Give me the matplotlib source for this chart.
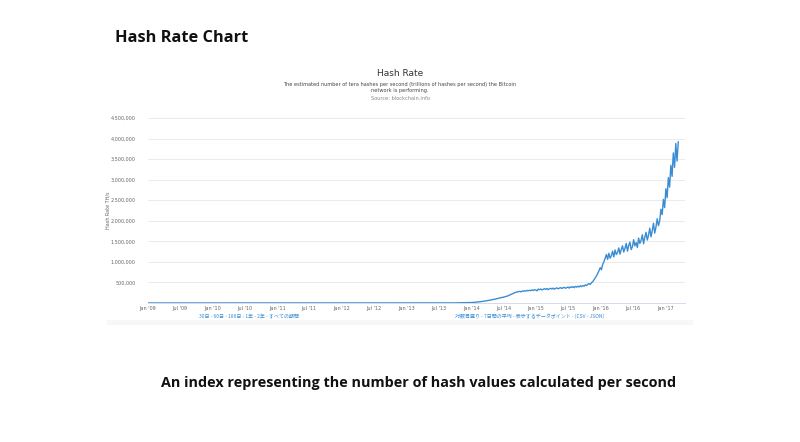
import numpy as np
import pandas as pd
import matplotlib
matplotlib.use("Agg")
import matplotlib.pyplot as plt
import matplotlib.dates as mdates
from matplotlib.patches import Rectangle
from matplotlib.ticker import FuncFormatter, MultipleLocator

# Hash rate in TH/s (early years are practically zero)
early_dates = ["2009-01-03", "2009-07-01", "2010-01-01", "2010-07-01", "2011-01-01",
               "2011-07-01", "2012-01-01", "2012-07-01", "2013-01-01", "2013-03-01",
               "2013-05-01", "2013-07-01", "2013-09-01", "2013-10-01", "2013-11-01",
               "2013-12-01"]
early_vals = [0, 0, 0.01, 0.1, 0.3, 10, 9, 20, 25, 45, 90, 220, 1000, 2500, 4500, 9000]

# weekly values from Jan 2014, in thousands TH/s
weekly_k = [
    # 2014
    11, 13, 15, 18, 21, 24, 27, 31, 35, 40, 44, 48, 52, 57, 63, 70, 74,
    80, 88, 95, 100, 108, 115, 122, 130, 135, 142, 150, 158, 168, 180, 195, 210, 222,
    235, 250, 262, 268, 275, 284, 270, 292, 283, 300, 289, 306, 296, 312, 300, 318, 305, 322,
    # 2015
    318, 296, 338, 322, 341, 318, 332, 349, 331, 352, 326, 344, 358, 340, 362, 336, 355,
    368, 345, 360, 375, 352, 370, 381, 358, 374, 388, 362, 392, 378, 398, 375, 403, 386,
    408, 390, 418, 398, 424, 408, 440, 425, 455, 472, 452, 495, 520, 565, 610, 660, 720,
    # 2016
    780, 860, 810, 940, 1000, 1090, 1180, 1060, 1210, 1090, 1150, 1260, 1120, 1290, 1180,
    1230, 1340, 1190, 1300, 1390, 1240, 1330, 1450, 1260, 1400, 1480, 1300, 1370, 1540,
    1390, 1470, 1350, 1580, 1450, 1520, 1660, 1440, 1600, 1720, 1530, 1650, 1820, 1610,
    1760, 1940, 1700, 1850, 2050, 1880, 2000, 2280,
    # 2017
    2150, 2520, 2320, 2780, 2560, 3050, 2820, 3350, 3080, 3650, 3300, 3880, 3450, 3920,
]

dates = pd.to_datetime(early_dates).append(
    pd.date_range("2014-01-01", periods=len(weekly_k), freq="7D"))
values = np.array(early_vals + [v * 1000 for v in weekly_k], dtype=float)

W, H = 800, 442
fig = plt.figure(figsize=(W / 100, H / 100), dpi=100)
fig.patch.set_facecolor("white")


def fx(x):
    return x / W


def fy(y):
    return 1 - y / H


# slide texts
fig.text(fx(115), fy(38), "Hash Rate Chart", fontsize=11.8, fontweight="bold",
         family="Open Sans", va="center", ha="left", color="#111111")
fig.text(fx(419), fy(383), "An index representing the number of hash values calculated per second",
         fontsize=10.4, fontweight="bold", family="Open Sans", va="center", ha="center",
         color="#111111")

# faint shadow under the embedded chart
fig.patches.append(Rectangle((fx(107), fy(325)), fx(693) - fx(107), fy(320) - fy(325),
                             transform=fig.transFigure, facecolor="#f7f7f7",
                             edgecolor="none", zorder=0))

# embedded chart titles
fig.text(fx(400), fy(73), "Hash Rate", fontsize=6.5, color="#333333", ha="center", va="center")
fig.text(fx(400), fy(84.5),
         "The estimated number of tera hashes per second (trillions of hashes per second) the Bitcoin",
         fontsize=3.6, color="#444444", ha="center", va="center")
fig.text(fx(400), fy(90.5), "network is performing.", fontsize=3.6, color="#444444",
         ha="center", va="center")
fig.text(fx(400), fy(98), "Source: blockchain.info", fontsize=3.6, color="#888888",
         ha="center", va="center")

ax = fig.add_axes([fx(148), fy(303), fx(685) - fx(148), fy(118) - fy(303)])
ax.plot(dates, values, color="#3a8dd2", lw=1.0)

ax.set_ylim(0, 4.5e6)
ax.set_xlim(pd.Timestamp("2009-01-01"), pd.Timestamp("2017-04-22"))
ax.yaxis.set_major_locator(MultipleLocator(500000))
ax.yaxis.set_major_formatter(FuncFormatter(lambda v, p: "" if v == 0 else f"{int(v):,}"))
ax.xaxis.set_major_locator(mdates.MonthLocator(bymonth=[1, 7]))
ax.xaxis.set_major_formatter(mdates.DateFormatter("%b '%y"))
ax.grid(axis="y", color="#e8e8e8", lw=0.6)
ax.set_axisbelow(True)
for s in ["top", "right", "left"]:
    ax.spines[s].set_visible(False)
ax.spines["bottom"].set_color("#ccd6eb")
ax.spines["bottom"].set_linewidth(0.6)
ax.tick_params(axis="y", length=0, labelsize=3.5, labelcolor="#666666", pad=9)
ax.tick_params(axis="x", length=0, labelsize=3.5, labelcolor="#666666", pad=2.5)
ax.set_ylabel("Hash Rate TH/s", fontsize=3.5, color="#666666", labelpad=0)

# range / option links below the chart
cjk = ["Noto Sans CJK JP", "DejaVu Sans"]
fig.text(fx(249), fy(316.5), "30日 - 60日 - 180日 - 1年 - 2年 - すべての期間", fontsize=3.6,
         color="#3a8dd2", ha="center", va="center", family=cjk)
fig.text(fx(530), fy(316.5), "対数目盛り - 7日間の平均 - 表示するデータポイント - (CSV - JSON)",
         fontsize=3.6, color="#3a8dd2", ha="center", va="center", family=cjk)

fig.savefig("out.png", dpi=100, facecolor="white")
